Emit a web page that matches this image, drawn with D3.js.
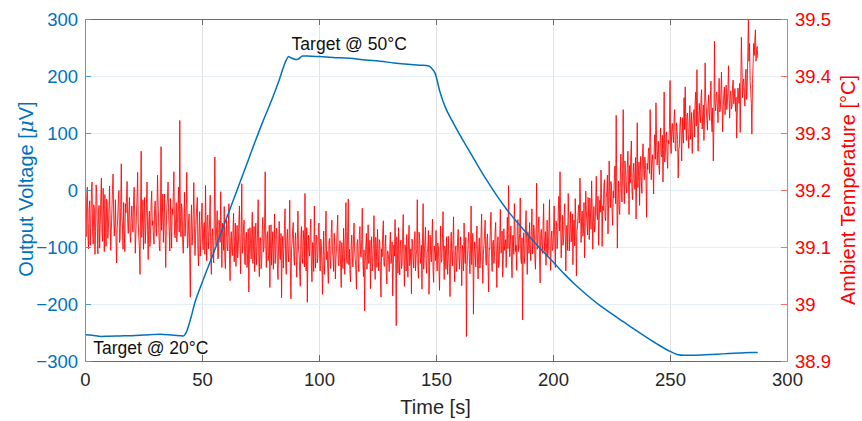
<!DOCTYPE html>
<html><head><meta charset="utf-8">
<script src="https://cdn.jsdelivr.net/npm/d3@7"></script>
<style>body{margin:0;background:#fff} svg{display:block} text{font-family:"Liberation Sans",Arial,Helvetica,sans-serif}</style>
</head><body><svg id="c" width="862" height="421"></svg>
<script>
// ---- data ----
const xTicks = [0, 50, 100, 150, 200, 250, 300];
const voltTicks = [-300, -200, -100, 0, 100, 200, 300];
const tempTicks = [38.9, 39, 39.1, 39.2, 39.3, 39.4, 39.5];
const tempTickLabels = ["38.9", "39", "39.1", "39.2", "39.3", "39.4", "39.5"];

const voltTime = [0,3,7,10,15,20,25,32,38,42,43,45,47,50,55,60,65,70,73,76,80,83,86,87,88,90,91,93,95,100,106,113,120,126,132,138,143,147,148,149.6,151.7,154,156.7,160,164,168,172,176,180,185,190,194.4,200,205,210,215,220,225,230,235,240,245,250,253,256,260,265,270,275,280,285,287.5];
const voltage = [-254,-255,-257,-256.5,-256,-255.5,-254.5,-253,-255,-256,-252,-228,-197,-163,-110,-55,0,55,88,120,160,193,228,234,232,229,229.5,235,235,234,232.5,231,228,226,223,220.5,219,217.5,214,205,172,145,123,98,70,42,15,-10,-33,-58,-82,-102,-126,-148,-168,-186,-202.5,-217,-231,-245,-258.5,-271.5,-283,-288.5,-290,-290,-289,-288,-287,-286,-285,-285];

const tempStart = 0, tempStep = 0.25;
const temperature = [
39.262,39.143,39.118,39.189,39.205,39.121,39.097,39.166,39.181,39.103,39.142,39.197,39.214,39.128,39.105,39.174,39.168,39.087,39.127,39.209,39.196,39.134,39.088,39.161,39.173,39.098,39.139,39.187,39.221,39.126,39.110,39.203,39.158,39.092,39.192,39.137,39.101,39.184,39.176,39.115,
39.132,39.171,39.207,39.148,39.094,39.129,39.165,39.201,39.228,39.157,39.119,39.142,39.183,39.116,39.072,39.134,39.151,39.185,39.199,39.108,39.113,39.169,39.246,39.153,39.137,39.096,39.178,39.131,39.092,39.176,39.160,39.188,39.215,39.141,39.124,39.163,39.187,39.127,39.108,39.149,
39.172,39.138,39.126,39.179,39.205,39.152,39.089,39.124,39.158,39.191,39.231,39.143,39.117,39.098,39.052,39.162,39.268,39.117,39.141,39.183,39.096,39.152,39.187,39.106,39.133,39.174,39.214,39.129,39.078,39.145,39.163,39.101,39.122,39.176,39.198,39.138,39.146,39.119,39.105,39.167,
39.181,39.144,39.119,39.168,39.226,39.177,39.137,39.102,39.093,39.158,39.276,39.129,39.152,39.193,39.108,39.147,39.193,39.121,39.064,39.136,39.171,39.188,39.214,39.156,39.127,39.093,39.185,39.142,39.098,39.167,39.157,39.195,39.232,39.128,39.116,39.151,39.178,39.109,39.141,39.173,
39.205,39.126,39.322,39.154,39.118,39.176,39.167,39.108,39.089,39.137,39.196,39.119,39.142,39.172,39.231,39.098,39.102,39.146,39.158,39.083,39.012,39.131,39.174,39.103,39.121,39.157,39.213,39.138,39.085,39.119,39.149,39.171,39.187,39.095,39.067,39.128,39.162,39.084,39.109,39.146,
39.177,39.112,39.095,39.138,39.143,39.087,39.208,39.124,39.076,39.153,39.156,39.097,39.118,39.149,39.191,39.082,39.052,39.117,39.132,39.091,39.072,39.159,39.258,39.121,39.103,39.136,39.164,39.079,39.081,39.147,39.139,39.108,39.197,39.126,39.064,39.142,39.128,39.094,39.171,39.081,
39.062,39.119,39.148,39.101,39.093,39.137,39.176,39.078,39.041,39.112,39.127,39.093,39.085,39.131,39.159,39.074,39.114,39.142,39.066,39.107,39.138,39.081,39.097,39.146,39.172,39.103,39.053,39.125,39.211,39.089,39.104,39.136,39.147,39.072,39.069,39.118,39.126,39.064,39.088,39.132,
39.021,39.088,39.134,39.106,39.079,39.124,39.161,39.071,39.103,39.136,39.057,39.113,39.142,39.069,39.091,39.128,39.183,39.084,39.048,39.117,39.116,39.062,39.073,39.131,39.152,39.091,39.098,39.143,39.232,39.102,39.064,39.119,39.127,39.076,39.085,39.138,39.029,39.097,39.139,39.068,
39.102,39.127,39.061,39.094,39.158,39.071,39.087,39.133,39.126,39.058,39.043,39.109,39.145,39.082,39.078,39.124,39.011,39.098,39.119,39.063,39.096,39.138,39.167,39.077,39.052,39.112,39.131,39.089,39.074,39.121,39.182,39.066,39.009,39.095,39.107,39.132,39.143,39.084,39.068,39.111,
39.125,39.079,39.047,39.113,39.163,39.096,39.088,39.054,39.031,39.117,39.136,39.082,39.071,39.129,39.112,39.065,39.194,39.101,39.058,39.134,39.003,39.077,39.121,39.092,39.084,39.126,39.149,39.068,39.039,39.108,39.106,39.057,39.172,39.099,39.063,39.121,39.118,39.072,39.081,39.136,
39.142,39.091,39.058,39.114,39.106,39.067,39.017,39.083,39.128,39.052,39.074,39.119,39.163,39.078,39.092,39.061,39.036,39.109,39.115,39.073,39.062,39.128,39.147,39.094,39.083,39.057,39.124,39.103,39.044,39.082,39.098,39.131,39.156,39.071,39.067,39.097,39.111,39.064,39.029,39.108,
39.087,39.062,39.133,39.098,39.052,39.114,39.178,39.086,39.071,39.127,39.184,39.069,39.096,39.053,39.039,39.104,39.121,39.081,39.065,39.118,39.142,39.093,39.078,39.061,39.026,39.107,39.113,39.074,39.057,39.122,39.136,39.088,39.082,39.113,39.168,39.076,39.048,39.095,38.988,39.071,
39.102,39.124,39.061,39.087,39.139,39.071,39.084,39.112,39.027,39.096,39.118,39.058,39.072,39.106,39.155,39.079,39.043,39.117,39.097,39.064,39.131,39.089,39.058,39.113,39.109,39.048,39.012,39.097,39.083,39.128,39.146,39.069,39.066,39.101,39.121,39.056,39.035,39.093,39.092,39.078,
39.057,39.098,39.126,39.071,39.079,39.109,39.014,39.063,39.103,39.084,39.148,39.092,38.962,39.118,39.088,39.054,39.134,39.076,39.051,39.107,39.112,39.062,39.069,39.121,39.157,39.083,39.031,39.104,39.095,39.058,39.122,39.079,39.047,39.112,39.138,39.067,39.076,39.097,39.018,39.114,
39.104,39.079,39.063,39.112,39.127,39.058,39.082,39.097,39.183,39.068,39.045,39.126,39.116,39.083,39.071,39.103,39.026,39.114,39.176,39.061,39.088,39.109,39.135,39.072,39.054,39.091,39.098,39.129,39.017,39.066,39.121,39.087,39.074,39.118,39.149,39.059,39.038,39.102,39.093,39.076,
39.129,39.081,39.058,39.107,39.101,39.066,39.024,39.089,39.137,39.073,39.076,39.114,39.162,39.091,39.043,39.102,39.095,39.061,39.118,39.078,39.052,39.119,39.084,39.064,39.013,39.097,39.126,39.082,39.067,39.111,39.153,39.068,39.039,39.094,39.102,39.057,39.074,39.116,39.131,39.086,
39.061,39.092,39.118,39.076,39.032,39.103,39.094,39.058,39.142,39.088,39.071,39.117,38.943,39.064,39.087,39.109,39.126,39.081,39.053,39.096,39.172,39.069,39.098,39.124,38.982,39.077,39.109,39.091,39.065,39.113,39.137,39.072,39.044,39.098,39.116,39.063,39.079,39.121,39.158,39.084,
39.036,39.087,39.104,39.121,39.147,39.079,39.068,39.112,39.123,39.066,39.021,39.098,39.096,39.134,39.161,39.082,39.057,39.107,39.112,39.071,39.084,39.126,39.143,39.093,39.029,39.102,39.118,39.064,39.073,39.117,39.166,39.089,39.091,39.128,39.047,39.076,39.132,39.094,39.105,39.113,
39.064,39.114,39.152,39.097,39.208,39.129,39.083,39.108,39.137,39.076,39.046,39.119,39.121,39.087,39.176,39.132,39.092,39.103,39.059,39.141,39.148,39.092,39.103,39.124,39.186,39.081,39.071,39.116,38.972,39.098,39.125,39.071,39.087,39.138,39.164,39.106,39.052,39.127,39.118,39.089,
39.143,39.104,39.076,39.127,39.167,39.088,39.098,39.139,39.129,39.081,39.061,39.114,39.212,39.096,39.104,39.142,39.153,39.079,39.037,39.121,39.131,39.101,39.089,39.136,39.176,39.092,39.112,39.127,39.068,39.108,39.147,39.083,39.094,39.131,39.183,39.097,39.059,39.116,39.128,39.094,
39.098,39.131,39.172,39.112,39.064,39.146,39.143,39.097,39.117,39.163,39.189,39.128,39.232,39.141,39.081,39.117,39.156,39.103,39.109,39.152,39.176,39.124,39.058,39.136,39.138,39.094,39.194,39.148,39.093,39.127,39.162,39.109,39.121,39.158,39.069,39.133,39.147,39.102,39.185,39.141,
39.049,39.128,39.137,39.161,39.174,39.142,39.221,39.183,39.108,39.153,39.163,39.119,39.126,39.178,39.081,39.137,39.198,39.164,39.142,39.121,39.187,39.152,39.113,39.186,39.158,39.131,39.216,39.167,39.096,39.143,39.171,39.126,39.134,39.179,39.224,39.158,39.148,39.189,39.103,39.146,
39.182,39.161,39.235,39.194,39.101,39.172,39.164,39.208,39.218,39.153,39.146,39.187,39.197,39.226,39.123,39.174,39.251,39.193,39.169,39.215,39.207,39.162,39.138,39.198,39.186,39.229,39.242,39.176,39.331,39.205,39.098,39.183,39.216,39.168,39.157,39.221,39.263,39.192,39.179,39.237,
39.341,39.214,39.176,39.251,39.234,39.207,39.195,39.238,39.268,39.219,39.157,39.243,39.212,39.262,39.286,39.198,39.183,39.229,39.247,39.212,39.201,39.257,39.149,39.226,39.318,39.204,39.226,39.249,39.173,39.231,39.259,39.215,39.194,39.264,39.281,39.236,39.218,39.258,39.243,39.222,
39.152,39.247,39.236,39.268,39.274,39.229,39.341,39.283,39.218,39.251,39.262,39.238,39.193,39.276,39.297,39.254,39.353,39.291,39.244,39.267,39.286,39.243,39.227,39.279,39.309,39.262,39.258,39.296,39.214,39.271,39.372,39.249,39.265,39.294,39.302,39.258,39.238,39.287,39.281,39.306,
39.392,39.283,39.264,39.309,39.317,39.297,39.283,39.326,39.341,39.272,39.268,39.318,39.304,39.289,39.221,39.271,39.276,39.314,39.328,39.293,39.251,39.327,39.296,39.282,39.362,39.306,39.381,39.318,39.287,39.332,39.335,39.297,39.273,39.321,39.348,39.289,39.309,39.336,39.264,39.311,
39.328,39.341,39.293,39.356,39.372,39.312,39.411,39.339,39.268,39.318,39.352,39.331,39.318,39.362,39.376,39.307,39.331,39.349,39.287,39.326,39.423,39.358,39.346,39.323,39.305,39.347,39.367,39.334,39.322,39.361,39.391,39.318,39.302,39.344,39.251,39.312,39.461,39.352,39.339,39.367,
39.372,39.346,39.318,39.361,39.396,39.337,39.341,39.372,39.407,39.353,39.302,39.344,39.368,39.381,39.332,39.356,39.384,39.341,39.351,39.376,39.418,39.359,39.326,39.367,39.374,39.342,39.347,39.384,39.393,39.351,39.362,39.378,39.338,39.363,39.291,39.335,39.379,39.368,39.352,39.387,
39.301,39.382,39.468,39.417,39.362,39.388,39.395,39.371,39.347,39.402,39.412,39.359,39.381,39.441,39.498,39.426,39.457,39.392,39.374,39.352,39.298,39.387,39.419,39.457,39.436,39.463,39.481,39.426,39.447,39.452,39.432
];

const annotations = [
  {text: "Target @ 50°C", t: 88.3, v: 245},
  {text: "Target @ 20°C", t: 3.5, v: -288}
];

// ---- chart ----
const blue = "#0072BD", red = "#FF0000", dark = "#262626";
const L = 85, R = 787, T = 19, B = 361;
const svg = d3.select("#c");
const x = d3.scaleLinear().domain([0, 300]).range([L, R]);
const yL = d3.scaleLinear().domain([-300, 300]).range([B, T]);
const yR = d3.scaleLinear().domain([38.9, 39.5]).range([B, T]);

svg.append("defs").append("clipPath").attr("id", "clip")
  .append("rect").attr("x", L).attr("y", T).attr("width", R - L).attr("height", B - T);

// grid
const g = svg.append("g");
g.selectAll(".vg").data(xTicks.slice(1, -1)).join("line")
  .attr("x1", d => x(d) + 0.5).attr("x2", d => x(d) + 0.5).attr("y1", T).attr("y2", B)
  .attr("stroke", "#e2e2e2").attr("stroke-width", 1);
g.selectAll(".hg").data(voltTicks.slice(1, -1)).join("line")
  .attr("x1", L).attr("x2", R).attr("y1", d => Math.round(yL(d)) + 0.5).attr("y2", d => Math.round(yL(d)) + 0.5)
  .attr("stroke", "#e4eef7").attr("stroke-width", 1);

// red temperature line
const tempData = temperature.map((v, i) => [tempStart + i * tempStep, v]);
svg.append("path").datum(tempData)
  .attr("clip-path", "url(#clip)")
  .attr("fill", "none").attr("stroke", red).attr("stroke-width", 0.85).attr("stroke-linejoin", "round")
  .attr("d", d3.line().x(d => x(d[0])).y(d => yR(d[1])));

// blue voltage line
const voltData = voltTime.map((t, i) => [t, voltage[i]]);
svg.append("path").datum(voltData)
  .attr("clip-path", "url(#clip)")
  .attr("fill", "none").attr("stroke", blue).attr("stroke-width", 1.5).attr("stroke-linejoin", "round")
  .attr("d", d3.line().curve(d3.curveMonotoneX).x(d => x(d[0])).y(d => yL(d[1])));

// axes
const fs = "18.5px";
const xb = svg.append("g").attr("transform", `translate(0,${B})`)
  .call(d3.axisBottom(x).tickValues(xTicks).tickFormat(d3.format("d")).tickSize(-6).tickPadding(12));
const xt = svg.append("g").attr("transform", `translate(0,${T})`)
  .call(d3.axisTop(x).tickValues(xTicks).tickFormat("").tickSize(-6));
[xb, xt].forEach(a => {
  a.select(".domain").attr("stroke", "#6b6b6b");
  a.selectAll(".tick line").attr("stroke", "#6b6b6b");
});
xb.selectAll(".tick text").attr("fill", dark).style("font-size", fs);

const yl = svg.append("g").attr("transform", `translate(${L},0)`)
  .call(d3.axisLeft(yL).tickValues(voltTicks).tickFormat(d3.format("d")).tickSize(-6).tickPadding(7));
yl.select(".domain").attr("stroke", "#4f9bd6");
yl.selectAll(".tick line").attr("stroke", "#4f9bd6");
yl.selectAll(".tick text").attr("fill", blue).style("font-size", fs).attr("dy", "0.36em");

const yr = svg.append("g").attr("transform", `translate(${R},0)`)
  .call(d3.axisRight(yR).tickValues(tempTicks).tickFormat((d, i) => tempTickLabels[i]).tickSize(-6).tickPadding(8));
yr.select(".domain").attr("stroke", "#ff6b6b");
yr.selectAll(".tick line").attr("stroke", "#ff6b6b");
yr.selectAll(".tick text").attr("fill", red).style("font-size", fs).attr("dy", "0.36em");

// axis titles
svg.append("text").attr("x", (L + R) / 2 - 0.5).attr("y", 414).attr("text-anchor", "middle")
  .attr("fill", dark).style("font-size", "20px").text("Time [s]");
const ylab = svg.append("text").attr("transform", "translate(33,189) rotate(-90)")
  .attr("text-anchor", "middle").attr("fill", blue).style("font-size", "20px");
ylab.append("tspan").text("Output Voltage [");
ylab.append("tspan").style("font-style", "italic").style("font-family", "'DejaVu Serif',serif").text("μ");
ylab.append("tspan").text("V]");
svg.append("text").attr("transform", "translate(855,190) rotate(-90)")
  .attr("text-anchor", "middle").attr("fill", red).style("font-size", "20px").text("Ambient Temperature [°C]");

// annotations
svg.selectAll(".ann").data(annotations).join("text")
  .attr("x", d => x(d.t)).attr("y", d => yL(d.v))
  .attr("fill", "#111").style("font-size", "17.5px").text(d => d.text);
</script></body></html>
